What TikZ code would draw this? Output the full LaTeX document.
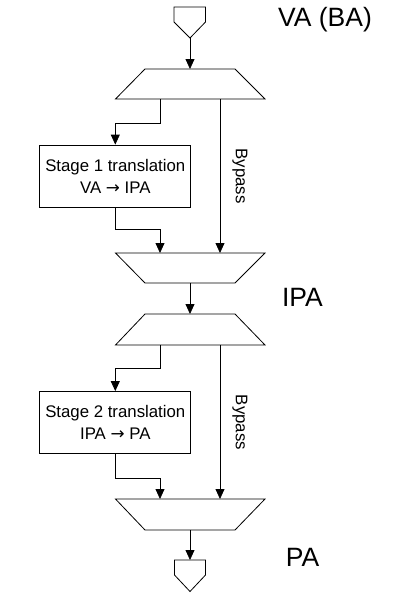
\documentclass[tikz,border=0pt]{standalone}
\usepackage{fontspec}
\setmainfont{Liberation Sans}
\newfontfamily\arrowfont{DejaVu Sans}
\usetikzlibrary{arrows.meta}
\begin{document}
\begin{tikzpicture}[x=1pt,y=-1pt,
  ln/.style={draw=black,line width=0.8pt},
  arr/.style={ln,-{Triangle[width=9pt,length=10pt]}},
  stagebox/.style={draw=black,line width=0.8pt,minimum width=151pt,minimum height=62pt,inner sep=0pt,align=center,font=\fontsize{16.8}{22}\selectfont},
  biglabel/.style={font=\fontsize{26.5}{30}\selectfont,inner sep=0pt},
  bypasslabel/.style={font=\fontsize{16.8}{20}\selectfont,rotate=-90,inner sep=0pt}]
\useasboundingbox (0,0) rectangle (406,597);
% input / output ports
\draw[ln] (174,7) -- (205.5,7) -- (205.5,22) -- (190,38) -- (174,22) -- cycle;
\coordinate (inp) at (190,38);
\draw[ln] (174.5,560) -- (205.5,560) -- (205.5,575) -- (190,591.5) -- (174.5,575) -- cycle;
\coordinate (outp) at (190,560);
% multiplexers
\draw[ln] (145,69) -- (235,69) -- (265,99) -- (115.5,99) -- cycle;
\coordinate (m1t) at (190,69);
\coordinate (m1l) at (160,99);
\coordinate (m1r) at (220,99);
\draw[ln] (115.5,253) -- (265,253) -- (235,283) -- (145,283) -- cycle;
\coordinate (m2l) at (160,253);
\coordinate (m2r) at (220,253);
\coordinate (m2b) at (190,283);
\draw[ln] (145,314) -- (235,314) -- (265,345) -- (115.5,345) -- cycle;
\coordinate (m3t) at (190,314);
\coordinate (m3l) at (160,345);
\coordinate (m3r) at (220,345);
\draw[ln] (115.5,499) -- (265,499) -- (235,530) -- (145,530) -- cycle;
\coordinate (m4l) at (160,499);
\coordinate (m4r) at (220,499);
\coordinate (m4b) at (190,530);
% stage boxes
\node[stagebox] (s1) at (115.3,176) {Stage 1 translation\\VA {\arrowfont →} IPA};
\node[stagebox] (s2) at (115.3,422.5) {Stage 2 translation\\IPA {\arrowfont →} PA};
% labels
\node[biglabel] (va) at (325,19.5) {VA (BA)};
\node[biglabel] (ipa) at (302.5,297.5) {IPA};
\node[biglabel] (pa) at (302.5,557.5) {PA};
\node[bypasslabel] (bp1) at (240,176) {Bypass};
\node[bypasslabel] (bp2) at (240,422.5) {Bypass};
% connectors
\draw[arr] (inp) -- (m1t);
\draw[arr] (m1l) -- ++(0,24) -| (s1.north);
\draw[arr] (s1.south) -- ++(0,22) -| (m2l);
\draw[arr] (m1r) -- (m2r);
\draw[arr] (m2b) -- (m3t);
\draw[arr] (m3l) -- ++(0,23) -| (s2.north);
\draw[arr] (s2.south) -- ++(0,24) -| (m4l);
\draw[arr] (m3r) -- (m4r);
\draw[arr] (m4b) -- (outp);
\end{tikzpicture}
\end{document}
